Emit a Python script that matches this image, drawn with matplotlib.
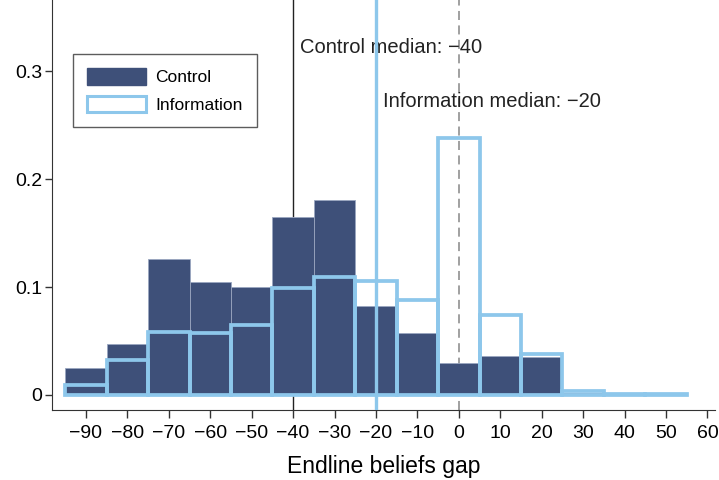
import matplotlib
matplotlib.use("Agg")
import matplotlib.pyplot as plt
import matplotlib.patches as mpatches
import numpy as np

plt.rcParams["font.family"] = ["Liberation Sans", "DejaVu Sans"]

# Bin centres (width 10) and densities per bin
bin_centers = [-90, -80, -70, -60, -50, -40, -30, -20, -10, 0, 10, 20, 30, 40, 50]
control = [0.025, 0.047, 0.126, 0.105, 0.100, 0.165, 0.181, 0.082, 0.057,
           0.030, 0.036, 0.035, 0.002, 0.0, 0.0]
information = [0.009, 0.032, 0.058, 0.057, 0.065, 0.099, 0.109, 0.106, 0.088,
               0.238, 0.074, 0.038, 0.004, 0.001, 0.001]

control_median = -40
info_median = -20
xticks = list(range(-90, 61, 10))
yticks = [0, 0.1, 0.2, 0.3]

DARK = "#3E5079"
LIGHT = "#8DC7EB"

fig = plt.figure(figsize=(7.19, 4.80), dpi=100)
ax = fig.add_axes([0.0723, 0.1458, 0.922, 0.854])

ax.bar(bin_centers, control, width=10, color=DARK, edgecolor="#9AA6C0",
       linewidth=0.6, zorder=2)
ax.bar(bin_centers, information, width=10, facecolor="none", edgecolor=LIGHT,
       linewidth=2.7, zorder=3)

ax.axvline(control_median, color="#222222", linewidth=1.0, zorder=1)
ax.axvline(info_median, color=LIGHT, linewidth=2.4, zorder=4)
ax.axvline(0, color="#999999", linewidth=1.3, linestyle=(0, (5, 3)), zorder=1)

ax.text(control_median + 1.7, 0.322, "Control median: \u221240",
        fontsize=14.5, va="center", ha="left", color="#222222")
ax.text(info_median + 1.7, 0.272, "Information median: \u221220",
        fontsize=14.5, va="center", ha="left", color="#222222")

ax.set_xlim(-98.2, 61.8)
ax.set_ylim(-0.014, 0.366)
ax.set_xticks(xticks)
ax.set_xticklabels([str(t).replace("-", "\u2212") for t in xticks])
ax.set_yticks(yticks)
ax.set_yticklabels(["0", "0.1", "0.2", "0.3"])
ax.tick_params(labelsize=14, width=1, color="#333333", direction="out")
ax.tick_params(axis="x", length=6, pad=5)
ax.tick_params(axis="y", length=5, pad=2)
ax.set_xlabel("Endline beliefs gap", fontsize=16.5, labelpad=9)

for side in ["top", "right"]:
    ax.spines[side].set_visible(False)
ax.spines["left"].set_color("#333333")
ax.spines["bottom"].set_color("#333333")

handles = [
    mpatches.Patch(facecolor=DARK, edgecolor=DARK, label="Control"),
    mpatches.Patch(facecolor="white", edgecolor=LIGHT, linewidth=2.2, label="Information"),
]
leg = ax.legend(handles=handles, loc="upper left", bbox_to_anchor=(0.0317, 0.868),
                borderaxespad=0, fontsize=12.5, frameon=True, fancybox=False,
                edgecolor="#333333", handlelength=3.4, handleheight=1.1,
                handletextpad=0.55, borderpad=0.8, labelspacing=0.6)
leg.get_frame().set_linewidth(1.0)

fig.savefig("out.png", dpi=100)
